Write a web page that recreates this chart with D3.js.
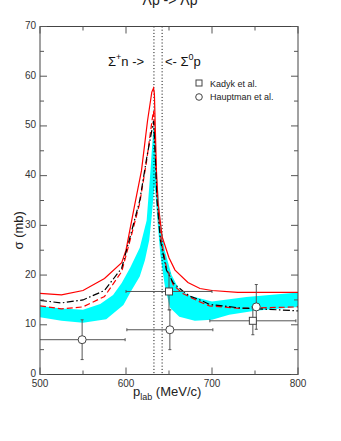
<!DOCTYPE html>
<html lang="en">
  <head>
    <meta charset="UTF-8" />
    <title>Lambda p -> Lambda p</title>
    <script src="https://d3js.org/d3.v7.min.js"></script>
    <style>
      body { margin: 0; background: #fff; }
      svg { display: block; font-family: "Liberation Sans", Arial, sans-serif; }
    </style>
  </head>
  <body>
    <svg id="chart" width="341" height="441"></svg>
    <script>
      const xTicks = [500, 600, 700, 800];
      const yTicks = [0, 10, 20, 30, 40, 50, 60, 70];
      const thresholds = [632.5, 642];

      // theory curves [p_lab, sigma]
      const redSolid = [[500,16.3],[525,16.0],[550,16.9],[575,19.3],[595,22.5],[600,25],[610,34],[618,41],[625,51],[630,56.8],[632,57.6],[633,56.5],[634,50],[635.4,41],[637.3,34.5],[642,27.7],[650,23.5],[657,21],[672,18.5],[686,17.3],[700,16.9],[730,16.5],[800,16.5]];
      const redDashed = [[500,13.8],[525,13.2],[550,13.6],[575,15.7],[595,20.7],[606,27.8],[616,34.5],[624,43],[631,52],[632,53],[633,50],[634.5,43],[636,36],[640,28],[647,21.5],[655,18.0],[666,16.3],[686,14.6],[697,13.8],[732,13.3],[800,13.6]];
      const blackDashDot = [[500,14.9],[525,14.4],[550,15.0],[575,16.9],[595,21.4],[606,28.5],[616,35],[624,43.5],[631,50],[632,51],[633,48],[634.5,42],[636,35],[640,27],[647,21],[655,18.4],[666,16.8],[674,15.8],[686,15.0],[697,14.1],[732,13.4],[800,12.8]];
      const bandUpper = [[500,13.8],[525,13.3],[550,13.0],[570,14.2],[585,16.0],[595,18.4],[605,21.5],[616,25.5],[624,31],[628,40],[632,50],[633,49],[636,40],[640,31],[645,25],[653,20],[662,17],[675,15.8],[700,14.7],[740,15.6],[800,16.5]];
      const bandLower = [[500,11.5],[525,10.8],[550,10.4],[577,11.1],[597,14.0],[606,16.8],[616,19.7],[622,23.0],[627,27],[630,32],[633,38],[634,37],[637,30],[640,24],[645,18],[651,13.5],[662,11.6],[680,10.8],[700,11.0],[720,12.0],[750,12.8],[800,13.6]];

      // data
      const kadykP = [650, 747.5];
      const kadykS = [16.7, 10.8];
      const kadykPerr = [50, 50];
      const kadykSerr = [3.7, 2.8];
      const hauptP = [549, 651, 751.5];
      const hauptS = [7.0, 9.0, 13.6];
      const hauptPerr = [50, 50, 0];
      const hauptSerr = [4.0, 4.0, 4.5];

      const svg = d3.select("#chart");
      const margin = { top: 26.5, right: 43, bottom: 66.5, left: 40 };
      const width = 341 - margin.left - margin.right;
      const height = 441 - margin.top - margin.bottom;
      const g = svg.append("g").attr("transform", `translate(${margin.left},${margin.top})`);

      const x = d3.scaleLinear().domain([500, 800]).range([0, width]);
      const y = d3.scaleLinear().domain([0, 70]).range([height, 0]);

      const axisColor = "#555";
      const line = d3.line().x((d) => x(d[0])).y((d) => y(d[1]));

      // cyan band
      g.append("path")
        .attr("d", line(bandUpper.concat(bandLower.slice().reverse())) + "Z")
        .attr("fill", "#00ffff")
        .attr("stroke", "none");

      // thresholds
      thresholds.forEach((t) => {
        g.append("line")
          .attr("x1", x(t)).attr("x2", x(t))
          .attr("y1", 0).attr("y2", height)
          .attr("stroke", "#000")
          .attr("stroke-width", 1)
          .attr("stroke-dasharray", "1,2.2");
      });

      g.append("path").datum(redSolid).attr("d", line)
        .attr("fill", "none").attr("stroke", "#ff0000").attr("stroke-width", 1.2);
      g.append("path").datum(redDashed).attr("d", line)
        .attr("fill", "none").attr("stroke", "#ff0000").attr("stroke-width", 1.2)
        .attr("stroke-dasharray", "6,3");
      g.append("path").datum(blackDashDot).attr("d", line)
        .attr("fill", "none").attr("stroke", "#000").attr("stroke-width", 1.2)
        .attr("stroke-dasharray", "7,2.5,1.5,2.5");

      // error bars
      function errBars(ps, ss, pe, se) {
        ps.forEach((p, i) => {
          if (pe[i] > 0) {
            g.append("line")
              .attr("x1", x(Math.max(500, p - pe[i]))).attr("x2", x(p + pe[i]))
              .attr("y1", y(ss[i])).attr("y2", y(ss[i]))
              .attr("stroke", axisColor).attr("stroke-width", 1);
            [p - pe[i], p + pe[i]].filter((v) => v > 500).forEach((v) => {
              g.append("line")
                .attr("x1", x(v)).attr("x2", x(v))
                .attr("y1", y(ss[i]) - 1.5).attr("y2", y(ss[i]) + 1.5)
                .attr("stroke", axisColor);
            });
          }
          g.append("line")
            .attr("x1", x(p)).attr("x2", x(p))
            .attr("y1", y(ss[i] - se[i])).attr("y2", y(ss[i] + se[i]))
            .attr("stroke", axisColor).attr("stroke-width", 1);
          [ss[i] - se[i], ss[i] + se[i]].forEach((v) => {
            g.append("line")
              .attr("x1", x(p) - 1.5).attr("x2", x(p) + 1.5)
              .attr("y1", y(v)).attr("y2", y(v))
              .attr("stroke", axisColor);
          });
        });
      }
      errBars(kadykP, kadykS, kadykPerr, kadykSerr);
      errBars(hauptP, hauptS, hauptPerr, hauptSerr);

      kadykP.forEach((p, i) => {
        g.append("rect")
          .attr("x", x(p) - 3.5).attr("y", y(kadykS[i]) - 3.5)
          .attr("width", 7).attr("height", 7)
          .attr("fill", "#fff").attr("stroke", "#444").attr("stroke-width", 1);
      });
      hauptP.forEach((p, i) => {
        g.append("circle")
          .attr("cx", x(p)).attr("cy", y(hauptS[i])).attr("r", 4)
          .attr("fill", "#fff").attr("stroke", "#444").attr("stroke-width", 1);
      });

      // frame and ticks
      g.append("rect")
        .attr("width", width).attr("height", height)
        .attr("fill", "none").attr("stroke", "#444").attr("stroke-width", 1);

      const xMinor = d3.range(550, 800, 100);
      const yMinor = d3.range(5, 70, 10);
      const tick = (x1, y1, x2, y2) =>
        g.append("line").attr("x1", x1).attr("y1", y1).attr("x2", x2).attr("y2", y2)
          .attr("stroke", axisColor).attr("stroke-width", 1);

      xTicks.forEach((v) => { tick(x(v), height, x(v), height - 7); tick(x(v), 0, x(v), 7); });
      xMinor.forEach((v) => { tick(x(v), height, x(v), height - 4); tick(x(v), 0, x(v), 4); });
      yTicks.forEach((v) => { tick(0, y(v), 7, y(v)); tick(width, y(v), width - 7, y(v)); });
      yMinor.forEach((v) => { tick(0, y(v), 4, y(v)); tick(width, y(v), width - 4, y(v)); });

      g.selectAll(".xl").data(xTicks).enter().append("text")
        .attr("x", (d) => x(d)).attr("y", height + 12.5)
        .attr("text-anchor", "middle").attr("font-size", 10).attr("fill", "#333")
        .text((d) => d);
      g.selectAll(".yl").data(yTicks).enter().append("text")
        .attr("x", -4).attr("y", (d) => y(d) + 2.5)
        .attr("text-anchor", "end").attr("font-size", 10).attr("fill", "#333")
        .text((d) => d);

      // titles
      svg.append("text").attr("x", 170).attr("y", 5)
        .attr("text-anchor", "middle").attr("font-size", 14).attr("fill", "#222")
        .text("Λp -> Λp");

      svg.append("text")
        .attr("transform", `translate(23,${margin.top + y(29)}) rotate(-90)`)
        .attr("text-anchor", "middle").attr("font-size", 13).attr("fill", "#222")
        .text("σ (mb)");

      const xl = svg.append("text")
        .attr("x", 133).attr("y", 396)
        .attr("font-size", 13).attr("fill", "#222");
      xl.append("tspan").text("p");
      xl.append("tspan").attr("dy", 4).attr("font-size", 9).text("lab");
      xl.append("tspan").attr("dy", -4).text(" (MeV/c)");

      const t1 = svg.append("text").attr("x", 108).attr("y", 66)
        .attr("font-size", 13).attr("fill", "#111");
      t1.append("tspan").text("Σ");
      t1.append("tspan").attr("dy", -6).attr("font-size", 9).text("+");
      t1.append("tspan").attr("dy", 6).text("n ->");

      const t2 = svg.append("text").attr("x", 165).attr("y", 66)
        .attr("font-size", 13).attr("fill", "#111");
      t2.append("tspan").text("<- Σ");
      t2.append("tspan").attr("dy", -6).attr("font-size", 9).text("0");
      t2.append("tspan").attr("dy", 6).text("p");

      // legend
      svg.append("rect").attr("x", 196).attr("y", 80).attr("width", 6).attr("height", 6)
        .attr("fill", "#fff").attr("stroke", "#444");
      svg.append("circle").attr("cx", 199).attr("cy", 97).attr("r", 3.3)
        .attr("fill", "#fff").attr("stroke", "#444");
      svg.append("text").attr("x", 210).attr("y", 86.5).attr("font-size", 9).attr("fill", "#222")
        .text("Kadyk et al.");
      svg.append("text").attr("x", 210).attr("y", 100).attr("font-size", 9).attr("fill", "#222")
        .text("Hauptman et al.");
    </script>
  </body>
</html>
